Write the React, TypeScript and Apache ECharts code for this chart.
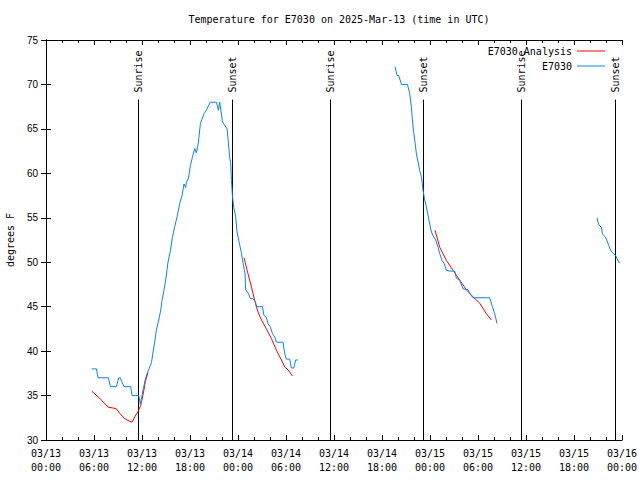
import React, { useEffect, useRef } from "react";
import * as echarts from "echarts";

// hours after 2025-03-13 00:00 UTC
const OBS_SEG1_H = [5.71, 6.3, 6.5, 7.8, 8.05, 8.8, 9.09, 9.28, 9.46, 9.75, 10.59, 10.75, 11.59, 11.8, 12.13, 12.38, 12.68, 12.88, 13.18, 13.38, 13.63, 13.8, 14.09, 14.34, 14.5, 14.75, 14.96, 15.25, 15.55, 15.8, 16.09, 16.38, 16.71, 17.0, 17.25, 17.46, 17.55, 17.8, 18.05, 18.3, 18.59, 18.8, 19.05, 19.3, 19.46, 19.75, 20.05, 20.25, 20.55, 21.3, 21.55, 21.71, 21.93, 22.05, 22.34, 22.63, 22.75, 22.96, 23.09, 23.18, 23.3, 23.46, 23.71, 23.88, 24.13, 24.43, 24.63, 24.88, 24.96, 25.3, 25.55, 25.88, 26.18, 26.3, 27.05, 27.25, 27.55, 27.75, 28.05, 28.3, 28.59, 28.8, 29.63, 29.84, 30.05, 30.46, 30.68, 30.96, 31.21, 31.5];
const OBS_SEG1_F = [38, 38, 37, 37, 36, 36, 37, 37, 36.6, 36, 36, 35, 35, 34, 35.6, 36.7, 37.6, 38, 38.7, 39.9, 41.3, 42.4, 43.5, 44.6, 45.7, 46.9, 48, 50, 51.3, 52.8, 54, 55.1, 56.6, 57.5, 58.8, 58.4, 59, 59.4, 60.9, 61.8, 62.8, 62.3, 63.5, 65.6, 66, 66.7, 67.1, 67.5, 68, 68, 67.1, 68, 66.7, 65.8, 65.4, 65, 63.9, 61.8, 61.1, 59.2, 57.5, 56.2, 55.1, 53.4, 52.3, 51, 49.9, 48.7, 46.9, 46.5, 45.9, 45.9, 45.5, 45, 45, 44, 43.8, 43.1, 42.7, 42, 41.6, 41, 41, 39.7, 39.1, 39.1, 38.1, 38.1, 39, 39];

const OBS_SEG2_H = [43.63, 43.88, 44.09, 44.43, 45.18, 45.46, 45.68, 45.8, 45.96, 46.13, 46.3, 46.5, 46.71, 46.93, 47.13, 47.34, 47.55, 47.75, 47.96, 48.18, 48.38, 48.71, 49.0, 49.21, 49.5, 49.75, 50.05, 50.46, 51.09, 51.3, 51.71, 52.13, 52.75, 52.96, 53.38, 55.46, 55.8, 56.09, 56.38];
const OBS_SEG2_F = [72, 71, 71, 70, 70, 69, 67.4, 66, 64.6, 63.5, 62.2, 61.3, 60.3, 59.6, 58.1, 57, 56.2, 55.3, 54.3, 53.4, 53, 52.5, 51.7, 51, 50.2, 49.9, 49.1, 49, 49, 48.2, 48, 47, 46.9, 46.5, 46, 46, 45, 44.2, 43.1];

const OBS_SEG3_H = [68.88, 69.0, 69.13, 69.43, 69.55, 69.84, 70.05, 70.34, 70.59, 70.88, 71.18, 71.38, 71.59, 71.78];
const OBS_SEG3_F = [55, 54.5, 54.2, 53.9, 53.2, 52.9, 52.6, 51.9, 51.3, 51, 50.8, 50.4, 50, 50];

const ANA_SEG1_H = [5.71, 6.71, 7.75, 8.38, 8.8, 9.21, 9.84, 10.25, 10.75, 11.09, 11.5, 11.84, 12.13, 12.43, 12.75];
const ANA_SEG1_F = [35.5, 34.7, 33.7, 33.6, 33.5, 33, 32.4, 32.2, 32, 32.6, 33.2, 33.9, 35.1, 36.6, 37.6];

const ANA_SEG2_H = [24.75, 25.25, 25.68, 26.09, 26.5, 26.93, 27.55, 28.18, 28.8, 29.43, 29.84, 30.25, 30.8];
const ANA_SEG2_F = [50.5, 48.7, 47.2, 45.7, 44.4, 43.5, 42.5, 41.4, 40.1, 39, 38.2, 37.9, 37.2];

const ANA_SEG3_H = [48.63, 49.21, 50.05, 50.88, 51.71, 52.55, 53.38, 54.21, 55.05, 55.68];
const ANA_SEG3_F = [53.6, 51.7, 50.2, 49.1, 48, 46.9, 46.1, 45.4, 44.2, 43.5];

const SUN_H = [11.5, 23.25, 35.5, 47.12, 59.43, 71.12];
const SUN_LABELS = ["Sunrise", "Sunset", "Sunrise", "Sunset", "Sunrise", "Sunset"];
const SUN_LINE_TOP_F = 68.3;

const X_MIN = 0;
const X_MAX = 72;
const X_STEP = 6;
const Y_MIN = 30;
const Y_MAX = 75;
const Y_STEP = 5;

const TITLE = "Temperature for E7030 on 2025-Mar-13 (time in UTC)";
const OBS_NAME = "E7030";
const ANA_NAME = "E7030 Analysis";
const Y_NAME = "degrees F";

const OBS_COLOR = "#0a80ff";
const ANA_COLOR = "#ff0000";
const MONO = "DejaVu Sans Mono";

const zip = (h: number[], f: number[]) => h.map((v, i) => [v, f[i]]);

function xLabel(v: number) {
  const day = 13 + Math.floor(v / 24);
  const hr = v % 24;
  const pad = (n: number) => String(n).padStart(2, "0");
  return `03/${pad(day)}\n${pad(hr)}:00`;
}

export default function App() {
  const ref = useRef<HTMLDivElement>(null);
  useEffect(() => {
    if (!ref.current) return;
    const chart = echarts.init(ref.current, undefined, { renderer: "svg" });
    const lineSeries = (name: string, color: string, h: number[], f: number[], z: number) => ({
      type: "line",
      name,
      data: zip(h, f),
      showSymbol: false,
      symbol: "none",
      color,
      z,
      lineStyle: { color, width: 1 },
    });
    const axisCommon = {
      axisLine: { lineStyle: { color: "#000", width: 1 } },
      splitLine: { show: false },
    };
    chart.setOption({
      animation: false,
      backgroundColor: "#fff",
      title: {
        text: TITLE,
        left: 334,
        top: 9,
        textAlign: "center",
        textStyle: { fontFamily: MONO, fontSize: 10, fontWeight: "normal", color: "#000" },
      },
      legend: [
        {
          data: [ANA_NAME],
          right: 30,
          top: 41,
          align: "right",
          icon: "rect",
          itemWidth: 28,
          itemHeight: 1,
          textStyle: { fontFamily: MONO, fontSize: 10, color: "#000" },
        },
        {
          data: [OBS_NAME],
          right: 30,
          top: 56,
          align: "right",
          icon: "rect",
          itemWidth: 28,
          itemHeight: 1,
          textStyle: { fontFamily: MONO, fontSize: 10, color: "#000" },
        },
      ],
      grid: { left: 46, right: 18, top: 40, bottom: 40, outerBoundsMode: "none", containLabel: false },
      xAxis: [
        {
          type: "value",
          min: X_MIN,
          max: X_MAX,
          interval: X_STEP,
          ...axisCommon,
          axisTick: { show: true, inside: true, length: 5, lineStyle: { color: "#000" } },
          minorTick: { show: true, splitNumber: 3, length: 3, lineStyle: { color: "#000" } },
          axisLabel: {
            formatter: xLabel,
            fontFamily: MONO,
            fontSize: 10,
            color: "#000",
            lineHeight: 14,
            margin: 6,
          },
        },
        {
          type: "value",
          position: "top",
          min: X_MIN,
          max: X_MAX,
          interval: X_STEP,
          ...axisCommon,
          axisTick: { show: true, inside: true, length: 5, lineStyle: { color: "#000" } },
          minorTick: { show: true, splitNumber: 3, length: 3, lineStyle: { color: "#000" } },
          axisLabel: { show: false },
        },
      ],
      yAxis: [
        {
          type: "value",
          min: Y_MIN,
          max: Y_MAX,
          interval: Y_STEP,
          ...axisCommon,
          name: Y_NAME,
          nameLocation: "middle",
          nameGap: 31,
          nameTextStyle: { fontFamily: MONO, fontSize: 10, color: "#000" },
          axisTick: { show: true, inside: true, length: 5, lineStyle: { color: "#000" } },
          axisLabel: { fontFamily: "Liberation Sans", fontSize: 10, color: "#000", margin: 8 },
        },
        {
          type: "value",
          position: "right",
          min: Y_MIN,
          max: Y_MAX,
          interval: Y_STEP,
          ...axisCommon,
          axisTick: { show: true, inside: true, length: 5, lineStyle: { color: "#000" } },
          axisLabel: { show: false },
        },
      ],
      series: [
        {
          type: "custom",
          name: "sun",
          z: 1,
          data: SUN_H.map((h) => [h]),
          encode: { x: 0 },
          renderItem: (params: any, api: any) => {
            const h = api.value(0);
            const b = api.coord([h, Y_MIN]);
            const t = api.coord([h, SUN_LINE_TOP_F]);
            const x = Math.round(b[0]) + 0.5;
            return {
              type: "group",
              children: [
                {
                  type: "line",
                  shape: { x1: x, y1: b[1], x2: x, y2: t[1] },
                  style: { stroke: "#000", lineWidth: 1 },
                },
                {
                  type: "text",
                  x: x,
                  y: t[1] - 7,
                  rotation: Math.PI / 2,
                  style: {
                    text: SUN_LABELS[params.dataIndex],
                    align: "left",
                    verticalAlign: "middle",
                    font: `10px '${MONO}'`,
                    fill: "#000",
                  },
                },
              ],
            };
          },
        },
        lineSeries(ANA_NAME, ANA_COLOR, ANA_SEG1_H, ANA_SEG1_F, 3),
        lineSeries(ANA_NAME, ANA_COLOR, ANA_SEG2_H, ANA_SEG2_F, 3),
        lineSeries(ANA_NAME, ANA_COLOR, ANA_SEG3_H, ANA_SEG3_F, 3),
        lineSeries(OBS_NAME, OBS_COLOR, OBS_SEG1_H, OBS_SEG1_F, 4),
        lineSeries(OBS_NAME, OBS_COLOR, OBS_SEG2_H, OBS_SEG2_F, 4),
        lineSeries(OBS_NAME, OBS_COLOR, OBS_SEG3_H, OBS_SEG3_F, 4),
      ],
    });
    return () => chart.dispose();
  }, []);
  return (
    <div
      ref={ref}
      style={{ position: "fixed", left: 0, top: 0, width: 640, height: 480, background: "#fff" }}
    />
  );
}
